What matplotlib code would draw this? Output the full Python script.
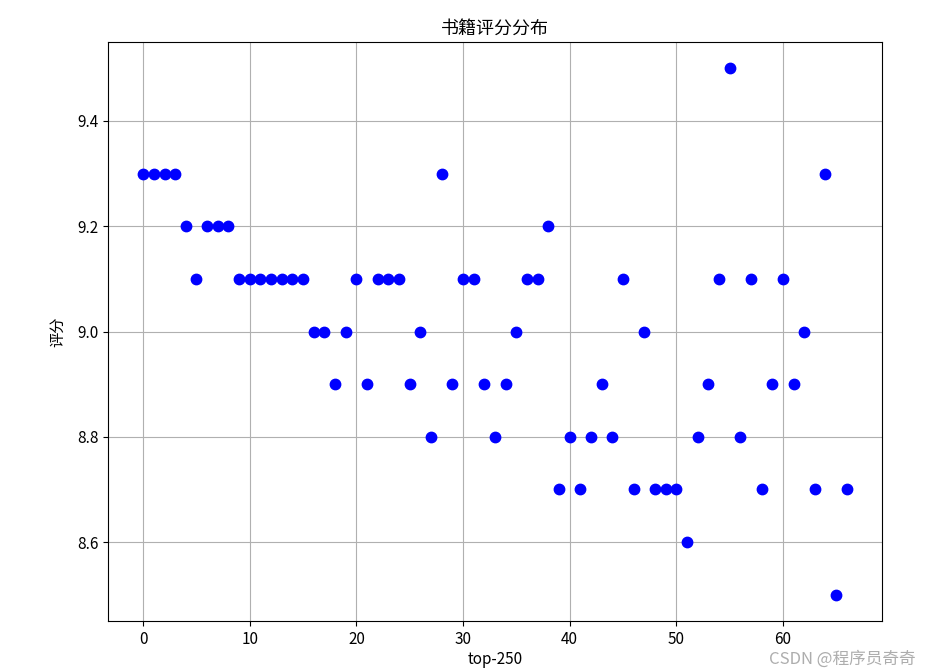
import matplotlib
matplotlib.use("Agg")
import matplotlib.pyplot as plt

plt.rcParams['font.family'] = ['Noto Sans CJK SC', 'DejaVu Sans']
plt.rcParams['axes.unicode_minus'] = False

# rank index in top-250 list and the book score
ranks = list(range(67))
scores = [9.3, 9.3, 9.3, 9.3, 9.2, 9.1, 9.2, 9.2, 9.2, 9.1,
          9.1, 9.1, 9.1, 9.1, 9.1, 9.1, 9.0, 9.0, 8.9, 9.0,
          9.1, 8.9, 9.1, 9.1, 9.1, 8.9, 9.0, 8.8, 9.3, 8.9,
          9.1, 9.1, 8.9, 8.8, 8.9, 9.0, 9.1, 9.1, 9.2, 8.7,
          8.8, 8.7, 8.8, 8.9, 8.8, 9.1, 8.7, 9.0, 8.7, 8.7,
          8.7, 8.6, 8.8, 8.9, 9.1, 9.5, 8.8, 9.1, 8.7, 8.9,
          9.1, 8.9, 9.0, 8.7, 9.3, 8.5, 8.7]

fig = plt.figure(figsize=(9.31, 6.7), dpi=100)
ax = fig.add_axes([108 / 931, 1 - 621 / 670, (882 - 108) / 931, (621 - 42) / 670])

ax.scatter(ranks, scores, c='blue', s=56, zorder=3)
ax.set_yticks([8.6, 8.8, 9.0, 9.2, 9.4])
ax.grid(True)
ax.set_title("书籍评分分布", fontsize=13)
ax.set_xlabel("top-250", fontsize=11, labelpad=2)
ax.set_ylabel("评分", fontsize=11, labelpad=8)
ax.tick_params(labelsize=11)

# watermark, kept just under the last tick label
fig.text(0.983, 0.003, "CSDN @程序员奇奇", ha='right', va='bottom',
         fontsize=12, color='#999999', alpha=0.8)

fig.savefig("out.png", dpi=100)
